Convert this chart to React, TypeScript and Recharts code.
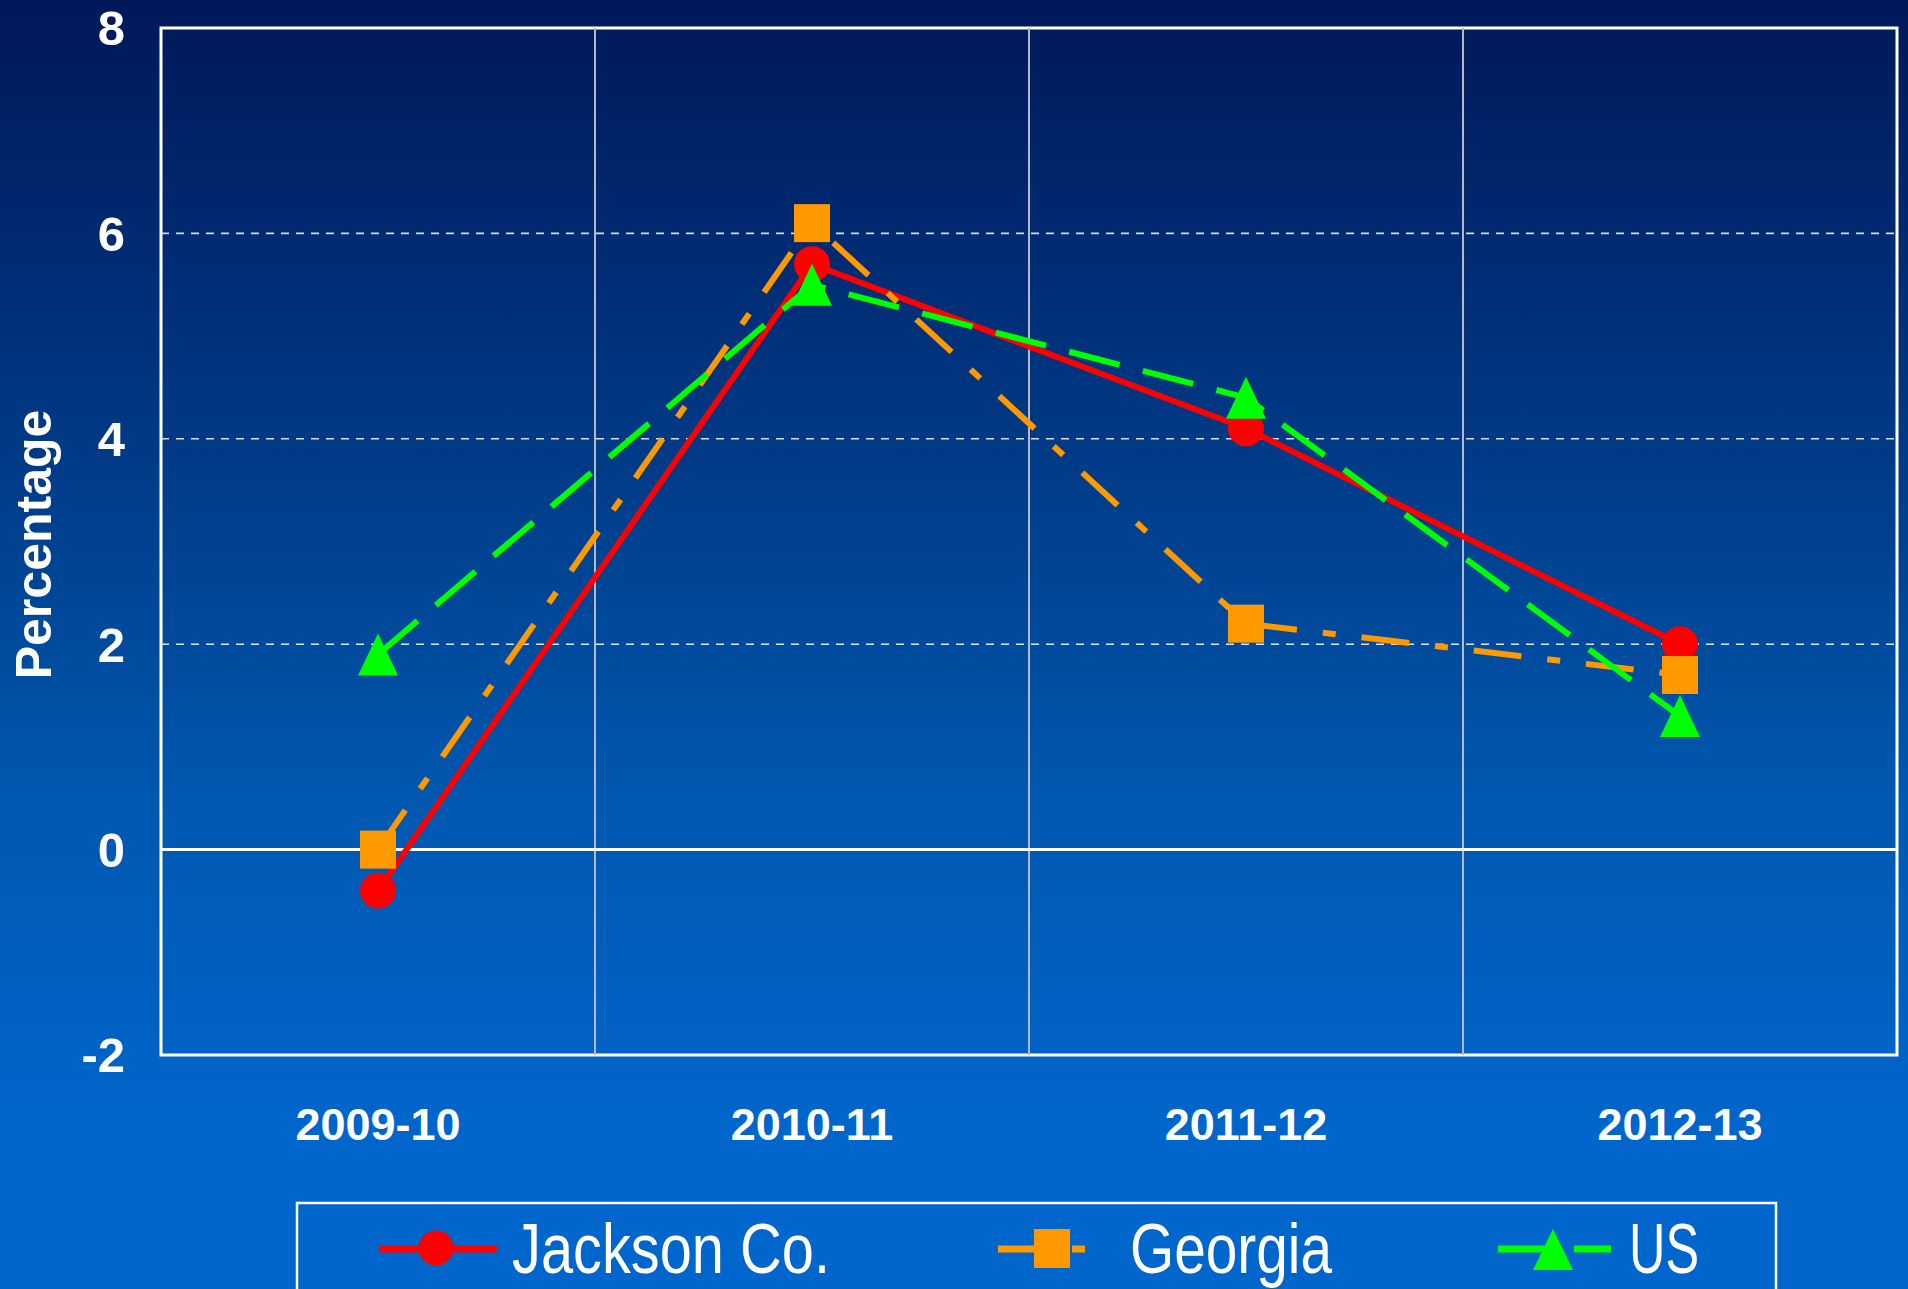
import React from 'react';
import { LineChart, Line, XAxis, YAxis, ReferenceLine, ReferenceArea } from 'recharts';

const categories = ['2009-10', '2010-11', '2011-12', '2012-13'];
const jackson = [-0.4, 5.7, 4.1, 2.0];
const georgia = [0.0, 6.1, 2.2, 1.7];
const us = [1.9, 5.5, 4.4, 1.3];
const yTicks = [-2, 0, 2, 4, 6, 8];
const dashedGridValues = [2, 4, 6];
const bandEdges = [0.5, 1.5, 2.5];
const seriesNames = ['Jackson Co.', 'Georgia', 'US'];
const yLabel = 'Percentage';

const RED = '#FF0000';
const ORANGE = '#FF9900';
const GREEN = '#00FF00';
const GEORGIA_DASH = '48 26 13 26';
const US_DASH = '52 24';
const FONT = "'Liberation Sans', Arial, Helvetica, sans-serif";

const data = categories.map((c, i) => ({
  idx: i,
  name: c,
  jackson: jackson[i],
  georgia: georgia[i],
  us: us[i],
}));

const CircleDot = (p: any) => {
  if (p.cx == null || p.cy == null) return <g key={`c-${p.index}`} />;
  return <circle key={`c-${p.index}`} cx={p.cx} cy={p.cy} r={18} fill={RED} />;
};
const SquareDot = (p: any) => {
  if (p.cx == null || p.cy == null) return <g key={`s-${p.index}`} />;
  return <rect key={`s-${p.index}`} x={p.cx - 18} y={p.cy - 19} width={36} height={38} fill={ORANGE} />;
};
const TriangleDot = (p: any) => {
  if (p.cx == null || p.cy == null) return <g key={`t-${p.index}`} />;
  const { cx, cy } = p;
  return (
    <polygon
      key={`t-${p.index}`}
      points={`${cx},${cy - 21} ${cx - 20},${cy + 21} ${cx + 20},${cy + 21}`}
      fill={GREEN}
    />
  );
};

const YAxisLabel = (props: any) => {
  const vb = props.viewBox || { x: 61, y: 28, width: 100, height: 1027 };
  const x = vb.x - 10;
  const y = vb.y + vb.height / 2 + 3;
  return (
    <text
      x={x}
      y={y}
      transform={`rotate(-90, ${x}, ${y})`}
      textAnchor="middle"
      fill="#FFFFFF"
      fontSize={50}
      fontWeight="bold"
      fontFamily={FONT}
    >
      {yLabel}
    </text>
  );
};

const Legend = () => (
  <svg
    width={1908}
    height={1289}
    style={{ position: 'absolute', left: 0, top: 0, pointerEvents: 'none' }}
  >
    <rect x={297} y={1203} width={1479} height={200} fill="none" stroke="#FFFFFF" strokeWidth={2.5} />
    {/* Jackson Co. */}
    <line x1={382} y1={1249} x2={494} y2={1249} stroke={RED} strokeWidth={7} strokeLinecap="round" />
    <circle cx={436} cy={1248} r={17.5} fill={RED} />
    <text x={512} y={1273} fill="#FFFFFF" fontSize={70} fontFamily={FONT} textLength={318} lengthAdjust="spacingAndGlyphs">
      {seriesNames[0]}
    </text>
    {/* Georgia */}
    <line x1={998} y1={1249} x2={1088} y2={1249} stroke={ORANGE} strokeWidth={7} strokeDasharray={GEORGIA_DASH} />
    <rect x={1034} y={1229} width={36} height={39} fill={ORANGE} />
    <text x={1130} y={1273} fill="#FFFFFF" fontSize={70} fontFamily={FONT} textLength={202} lengthAdjust="spacingAndGlyphs">
      {seriesNames[1]}
    </text>
    {/* US */}
    <line x1={1498} y1={1249} x2={1611} y2={1249} stroke={GREEN} strokeWidth={7} strokeDasharray={US_DASH} />
    <polygon points={`1553,1229 1533,1270 1573,1270`} fill={GREEN} />
    <text x={1629} y={1273} fill="#FFFFFF" fontSize={70} fontFamily={FONT} textLength={70} lengthAdjust="spacingAndGlyphs">
      {seriesNames[2]}
    </text>
  </svg>
);

export default function App() {
  return (
    <>
      <style>{`html,body{margin:0;padding:0;}`}</style>
      <div
        style={{
          position: 'relative',
          width: 1908,
          height: 1289,
          overflow: 'hidden',
          background: 'linear-gradient(to bottom, #00185a 0%, #003a86 35%, #0058b0 62%, #0066cc 88%, #0066cc 100%)',
          fontFamily: FONT,
        }}
      >
        <LineChart
          width={1908}
          height={1289}
          data={data}
          margin={{ top: 28, right: 11, bottom: 154, left: 61 }}
        >
          <XAxis
            dataKey="idx"
            type="number"
            domain={[-0.5, 3.5]}
            ticks={[0, 1, 2, 3]}
            tickFormatter={(v: number) => categories[v] ?? ''}
            axisLine={false}
            tickLine={false}
            tickSize={0}
            tickMargin={53}
            height={80}
            interval={0}
            allowDataOverflow
            tick={{ fill: '#FFFFFF', fontSize: 45, fontWeight: 'bold', fontFamily: FONT }}
          />
          <YAxis
            type="number"
            domain={[-2, 8]}
            ticks={yTicks}
            axisLine={false}
            tickLine={false}
            tickSize={0}
            tickMargin={36}
            width={100}
            interval={0}
            allowDataOverflow
            tick={{ fill: '#FFFFFF', fontSize: 49, fontWeight: 'bold', fontFamily: FONT }}
            label={<YAxisLabel />}
          />
          {bandEdges.map((x) => (
            <ReferenceLine key={`v-${x}`} x={x} stroke="#B4B8C8" strokeWidth={2} />
          ))}
          {dashedGridValues.map((y) => (
            <ReferenceLine key={`h-${y}`} y={y} stroke="rgba(255,255,255,0.85)" strokeWidth={1.6} strokeDasharray="8 7" />
          ))}
          <ReferenceLine y={0} stroke="#FFFFFF" strokeWidth={3} />
          <ReferenceArea
            x1={-0.5}
            x2={3.5}
            y1={-2}
            y2={8}
            fill="none"
            fillOpacity={0}
            stroke="#FFFFFF"
            strokeWidth={3}
            strokeOpacity={1}
          />
          <Line dataKey="jackson" stroke={RED} strokeWidth={6} dot={false} activeDot={false} isAnimationActive={false} />
          <Line dataKey="georgia" stroke={ORANGE} strokeWidth={6} strokeDasharray={GEORGIA_DASH} dot={false} activeDot={false} isAnimationActive={false} />
          <Line dataKey="us" stroke={GREEN} strokeWidth={6} strokeDasharray={US_DASH} dot={false} activeDot={false} isAnimationActive={false} />
          <Line dataKey="jackson" stroke="none" strokeWidth={0} dot={CircleDot} activeDot={false} isAnimationActive={false} legendType="none" />
          <Line dataKey="georgia" stroke="none" strokeWidth={0} dot={SquareDot} activeDot={false} isAnimationActive={false} legendType="none" />
          <Line dataKey="us" stroke="none" strokeWidth={0} dot={TriangleDot} activeDot={false} isAnimationActive={false} legendType="none" />
        </LineChart>
        <Legend />
      </div>
    </>
  );
}
